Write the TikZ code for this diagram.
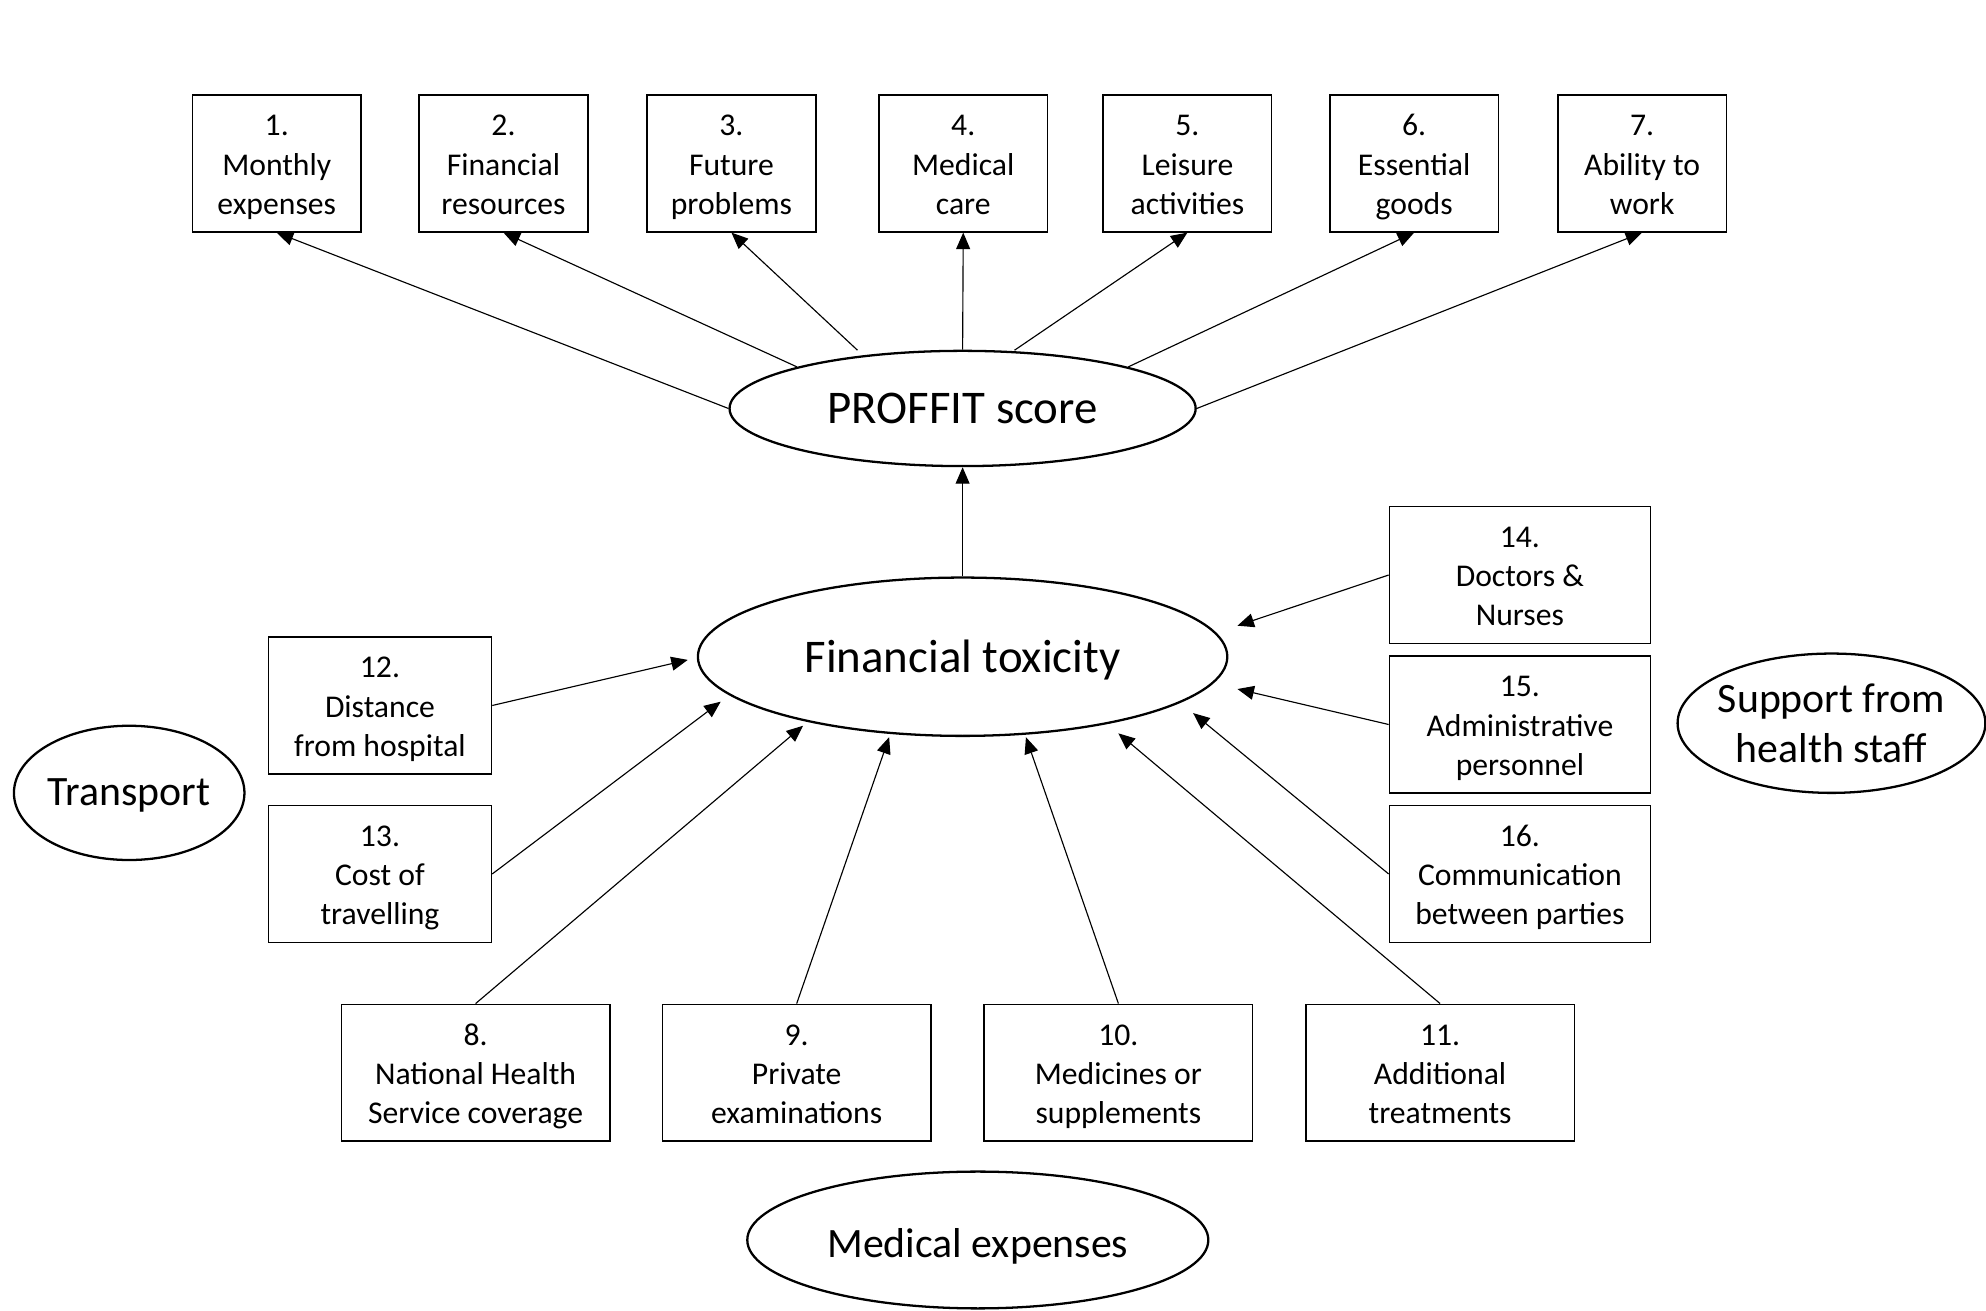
\documentclass[tikz,border=0pt]{standalone}
\usepackage{fontspec}
\setmainfont{Carlito}
\usetikzlibrary{shapes.geometric,arrows.meta,calc}
\newcommand\boxlines[1]{\raisebox{-3pt}[\height][\depth]{\begin{tabular}{@{}c@{}}#1\end{tabular}}}
\begin{document}
\begin{tikzpicture}[x=1pt,y=-1pt,
 box/.style={draw, line width=1.3pt, minimum height=108pt, inner sep=0pt,
   font=\fontsize{25}{31}\selectfont},
 topbox/.style={box, minimum width=133pt},
 sidebox/.style={box, minimum width=176pt},
 rbox/.style={box, minimum width=206pt},
 botbox/.style={box, minimum width=212pt},
 oval/.style={draw, ellipse, line width=1.8pt, inner sep=0pt},
 conn/.style={line width=0.9pt, -{Triangle[length=13pt,width=11pt]}},
 bigtext/.style={font=\fontsize{37}{44}\selectfont},
 midtext/.style={font=\fontsize{33}{40}\selectfont, align=center}]
\useasboundingbox (0,0) rectangle (1568,1035);

% top boxes
\node[topbox] (b1) at (218.5,129) {\boxlines{1.\\Monthly\\expenses}};
\node[topbox] (b2) at (397.5,129) {\boxlines{2.\\Financial\\resources}};
\node[topbox] (b3) at (577.5,129) {\boxlines{3.\\Future\\problems}};
\node[topbox] (b4) at (760.5,129) {\boxlines{4.\\Medical\\care}};
\node[topbox] (b5) at (937.5,129) {\boxlines{5.\\Leisure\\activities}};
\node[topbox] (b6) at (1116.5,129) {\boxlines{6.\\Essential\\goods}};
\node[topbox] (b7) at (1296.5,129) {\boxlines{7.\\Ability to\\work}};

% main ellipses
\node[oval, minimum width=368pt, minimum height=91pt] (pro) at (760,322.5) {};
\node[bigtext] at (pro.center) {PROFFIT score};
\node[oval, minimum width=418pt, minimum height=125pt] (ft) at (760,518.5) {};
\node[bigtext, yshift=-2.5pt] at (ft.center) {Financial toxicity};

% left boxes
\node[sidebox] (b12) at (300,557) {\boxlines{12.\\Distance\\from hospital}};
\node[sidebox] (b13) at (300,690) {\boxlines{13.\\Cost of\\travelling}};

% right boxes
\node[rbox] (b14) at (1200,454) {\boxlines{14.\\Doctors \&\\Nurses}};
\node[rbox] (b15) at (1200,572) {\boxlines{15.\\Administrative\\personnel}};
\node[rbox] (b16) at (1200,690) {\boxlines{16.\\Communication\\between parties}};

% bottom boxes
\node[botbox] (b8) at (375.5,847) {\boxlines{8.\\National Health\\Service coverage}};
\node[botbox] (b9) at (629,847) {\boxlines{9.\\Private\\examinations}};
\node[botbox] (b10) at (883,847) {\boxlines{10.\\Medicines or\\supplements}};
\node[botbox] (b11) at (1137,847) {\boxlines{11.\\Additional\\treatments}};

% group ellipses
\node[oval, minimum width=182pt, minimum height=106pt] (trn) at (102,626) {};
\node[midtext, yshift=-2pt] at (trn.center) {Transport};
\node[oval, minimum width=243pt, minimum height=110pt] (sup) at (1446,571) {};
\node[midtext] at (sup.center) {Support from\\health staff};
\node[oval, minimum width=364pt, minimum height=108pt] (med) at (772,979) {};
\node[midtext, yshift=-5pt] at (med.center) {Medical expenses};

% connectors from PROFFIT score to items
\draw[conn] (pro.west) -- (b1.south);
\draw[conn] (pro.north west) -- (b2.south);
\draw[conn] ($(pro.center)+(-83,-46)$) -- (b3.south);
\draw[conn] (pro.north) -- (b4.south);
\draw[conn] ($(pro.center)+(41,-46)$) -- (b5.south);
\draw[conn] (pro.north east) -- (b6.south);
\draw[conn] (pro.east) -- (b7.south);

% financial toxicity -> PROFFIT
\draw[conn] (ft.north) -- (pro.south);

% items into financial toxicity
\draw[conn] (b12.east) -- ($(ft.center)+(-217,2.5)$);
\draw[conn] (b13.east) -- ($(ft.center)+(-191,35.5)$);
\draw[conn] (b8.north) -- ($(ft.center)+(-126,54.5)$);
\draw[conn] (b9.north) -- ($(ft.center)+(-58,63.5)$);
\draw[conn] (b10.north) -- ($(ft.center)+(50,63.5)$);
\draw[conn] (b11.north) -- ($(ft.center)+(123,60.5)$);
\draw[conn] (b16.west) -- ($(ft.center)+(182,44.5)$);
\draw[conn] (b15.west) -- ($(ft.center)+(217,25.5)$);
\draw[conn] (b14.west) -- ($(ft.center)+(217,-24.5)$);
\end{tikzpicture}
\end{document}
